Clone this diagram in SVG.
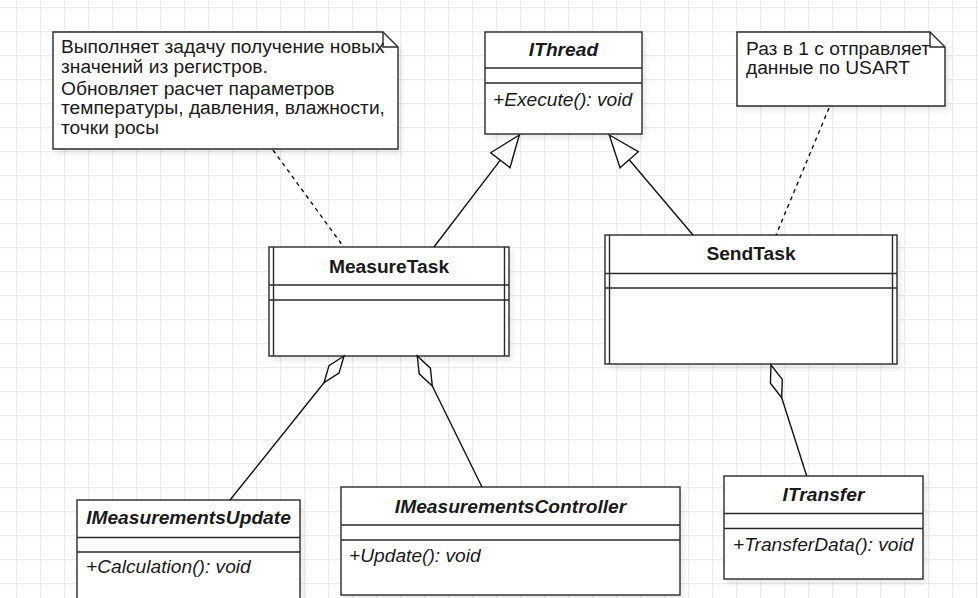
<svg xmlns="http://www.w3.org/2000/svg" width="979" height="598" viewBox="0 0 979 598">
<style>
text{font-family:"Liberation Sans",Arial,sans-serif;font-size:19.2px;fill:#1a1a1a}
.t{font-weight:bold;text-anchor:middle}
.ti{font-weight:bold;font-style:italic;text-anchor:middle}
.m{font-style:italic}
.box{fill:#fff;stroke:#2a2a2a;stroke-width:1.4}
.ln{fill:none;stroke:#2a2a2a;stroke-width:1.4}
.edge{fill:none;stroke:#111;stroke-width:1.4}
.dash{fill:none;stroke:#111;stroke-width:1.4;stroke-dasharray:4 4}
.head{fill:#fff;stroke:#111;stroke-width:1.4;stroke-linejoin:miter}
</style>
<defs>
<pattern id="grid" x="16.2" y="7.2" width="24" height="24" patternUnits="userSpaceOnUse">
<path d="M0 0.5H24M0.5 0V24" stroke="#e6e6e6" stroke-width="1" fill="none"/>
</pattern>
<filter id="sh" x="-10%" y="-10%" width="130%" height="140%">
<feDropShadow dx="3" dy="4" stdDeviation="2.5" flood-color="#000" flood-opacity="0.08"/>
</filter>
</defs>
<rect width="979" height="598" fill="#fff"/>
<rect width="979" height="598" fill="url(#grid)"/>

<g id="note1">
<path class="box" filter="url(#sh)" d="M53 32H383L398 47V149H53Z"/>
<path class="ln" d="M383 32V47H398"/>
<text x="61" y="53">Выполняет задачу получение новых</text>
<text x="61" y="72.5">значений из регистров.</text>
<text x="61" y="94.5">Обновляет расчет параметров</text>
<text x="61" y="114">температуры, давления, влажности,</text>
<text x="61" y="133.5">точки росы</text>
</g>

<g id="note2">
<path class="box" filter="url(#sh)" d="M737 32H930L945 47V106H737Z"/>
<path class="ln" d="M930 32V47H945"/>
<text x="746" y="54.5">Раз в 1 с отправляет</text>
<text x="746" y="74">данные по USART</text>
</g>

<g id="IThread">
<rect class="box" filter="url(#sh)" x="485" y="32" width="157" height="102"/>
<path class="ln" d="M485 68H642M485 83H642"/>
<text class="ti" x="563.5" y="56">IThread</text>
<text class="m" x="493" y="106">+Execute(): void</text>
</g>

<g id="MeasureTask">
<rect class="box" filter="url(#sh)" x="269" y="247" width="240" height="109"/>
<path class="ln" d="M273.5 247V356M504.5 247V356M269 285H509M269 300H509"/>
<text class="t" x="389" y="273">MeasureTask</text>
</g>

<g id="SendTask">
<rect class="box" filter="url(#sh)" x="605" y="235" width="292" height="129"/>
<path class="ln" d="M609.5 235V364M892.5 235V364M605 273.5H897M605 288H897"/>
<text class="t" x="751" y="260">SendTask</text>
</g>

<g id="IMeasurementsUpdate">
<rect class="box" filter="url(#sh)" x="77" y="500" width="223" height="110"/>
<path class="ln" d="M77 537.5H300M77 552H300"/>
<text class="ti" x="188.5" y="524">IMeasurementsUpdate</text>
<text class="m" x="86" y="573">+Calculation(): void</text>
</g>

<g id="IMeasurementsController">
<rect class="box" filter="url(#sh)" x="341" y="487" width="339" height="108"/>
<path class="ln" d="M341 525H680M341 540H680"/>
<text class="ti" x="510.5" y="513">IMeasurementsController</text>
<text class="m" x="349" y="562">+Update(): void</text>
</g>

<g id="ITransfer">
<rect class="box" filter="url(#sh)" x="724" y="476" width="199" height="103"/>
<path class="ln" d="M724 513.5H923M724 528.5H923"/>
<text class="ti" x="823.5" y="501">ITransfer</text>
<text class="m" x="733" y="551">+TransferData(): void</text>
</g>

<g id="connectors">
<path class="dash" d="M273 150L343 246"/>
<path class="dash" d="M829 108L776 235"/>
<path class="edge" d="M434 247L500.3 160.2"/>
<path class="head" d="M519.3 135L490.7 152.7L510 167.7Z"/>
<path class="edge" d="M693 235L629.2 159.7"/>
<path class="head" d="M609.3 135L638.3 151.7L620 167.7Z"/>
<path class="edge" d="M324 382.7L230 500"/>
<path class="head" d="M344 356L339 373.1L324 382.7L329 365.6Z"/>
<path class="edge" d="M432.3 386L482 487"/>
<path class="head" d="M417.3 356L430.4 368.2L432.3 386L419.2 373.8Z"/>
<path class="edge" d="M781.7 397.7L806.7 476"/>
<path class="head" d="M771 365L782.3 379.4L781.7 397.7L770.4 383.3Z"/>
</g>
</svg>
